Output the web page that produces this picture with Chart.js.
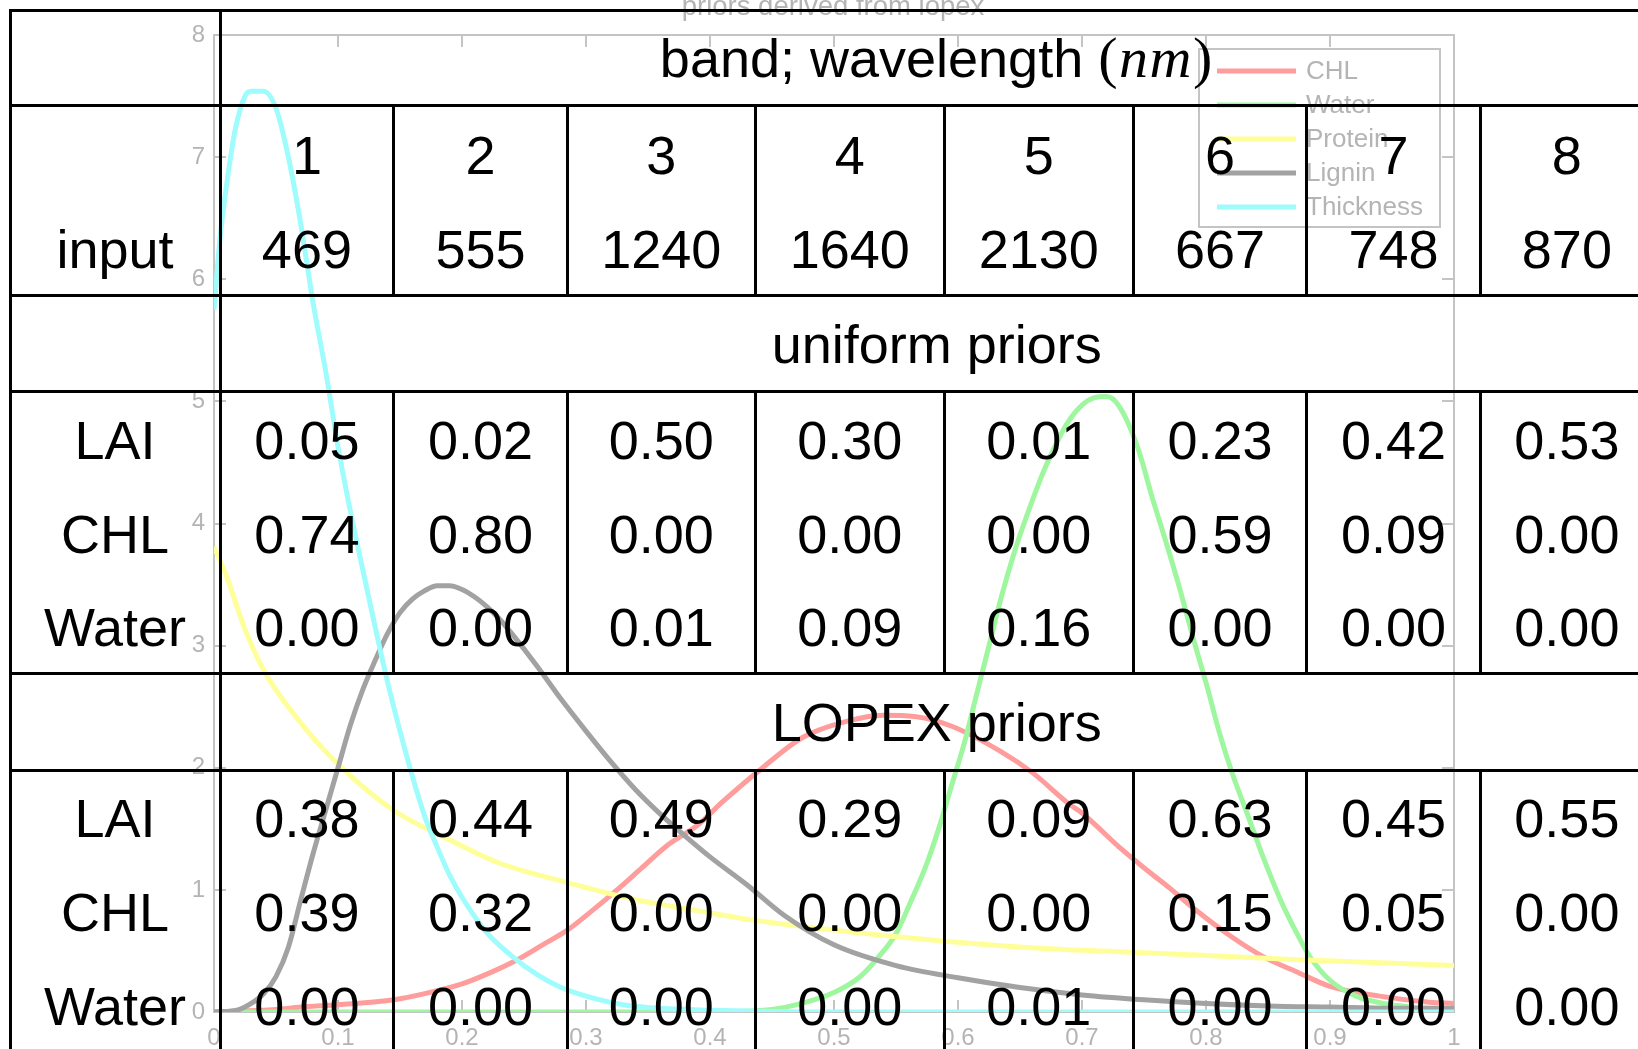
<!DOCTYPE html>
<html>
<head>
<meta charset="utf-8">
<title>Band sensitivities and priors</title>
<script src="https://cdn.jsdelivr.net/npm/chart.js@4.4.1/dist/chart.umd.min.js"></script>
<style>
  html, body { margin: 0; padding: 0; background: #fff; overflow: hidden; }
  #wrap { position: relative; width: 1638px; height: 1049px; overflow: hidden; }
  #plot { position: absolute; left: 0; top: 0; }
  #grid { position: absolute; left: 0; top: 0; width: 1638px; height: 1049px;
          font-family: "Liberation Sans", Arial, Helvetica, sans-serif; font-size: 54px; color: #000; }
  .ln { position: absolute; background: #000; }
  .tx { position: absolute; text-align: center; white-space: nowrap; height: 94px; line-height: 94px; }
  .math { font-family: "Liberation Serif", "Times New Roman", serif; font-size: 58px; letter-spacing: 1.5px; }
</style>
</head>
<body>
<div id="wrap">
  <canvas id="plot" width="1638" height="1049"></canvas>
  <div id="grid"></div>
</div>
<script>
// ---- prior density curves (x = normalised parameter value, y = density) ----
const seriesNames = ['CHL', 'Water', 'Protein', 'Lignin', 'Thickness'];
const seriesColors = ['#ff9c9c', '#9ef79e', '#ffff99', '#a2a2a2', '#9ffcfc'];

const chlX = [0, 0.05, 0.07, 0.10, 0.145, 0.17, 0.20, 0.22, 0.245, 0.265, 0.285, 0.305, 0.325, 0.345, 0.365, 0.39, 0.41, 0.44, 0.475, 0.51, 0.54, 0.565, 0.595, 0.635, 0.66, 0.69, 0.70, 0.73, 0.755, 0.77, 0.79, 0.82, 0.845, 0.875, 0.90, 0.94, 0.98, 1.0];
const chlY = [0, 0.02, 0.04, 0.06, 0.10, 0.15, 0.23, 0.31, 0.43, 0.55, 0.67, 0.83, 1.00, 1.18, 1.36, 1.53, 1.72, 1.98, 2.25, 2.38, 2.43, 2.42, 2.34, 2.13, 1.96, 1.70, 1.63, 1.35, 1.14, 1.02, 0.85, 0.62, 0.46, 0.32, 0.21, 0.13, 0.08, 0.07];

const waterX = [0, 0.40, 0.45, 0.47, 0.50, 0.52, 0.535, 0.55, 0.56, 0.575, 0.585, 0.595, 0.605, 0.615, 0.625, 0.635, 0.645, 0.655, 0.67, 0.69, 0.71, 0.72, 0.73, 0.745, 0.757, 0.768, 0.779, 0.79, 0.801, 0.811, 0.822, 0.833, 0.846, 0.86, 0.873, 0.884, 0.90, 0.921, 0.943, 0.967, 1.0];
const waterY = [0, 0.00, 0.02, 0.06, 0.16, 0.28, 0.44, 0.64, 0.86, 1.22, 1.52, 1.86, 2.20, 2.60, 3.00, 3.40, 3.75, 4.05, 4.45, 4.85, 5.03, 5.04, 4.96, 4.62, 4.20, 3.84, 3.46, 3.05, 2.66, 2.28, 1.93, 1.63, 1.27, 0.92, 0.65, 0.45, 0.26, 0.13, 0.07, 0.04, 0.02];

const proteinX = [0, 0.01, 0.024, 0.04, 0.069, 0.10, 0.145, 0.19, 0.23, 0.285, 0.34, 0.39, 0.43, 0.51, 0.59, 0.67, 0.74, 0.87, 1.0];
const proteinY = [3.81, 3.57, 3.16, 2.80, 2.38, 2.03, 1.65, 1.41, 1.22, 1.06, 0.92, 0.83, 0.76, 0.66, 0.58, 0.52, 0.49, 0.43, 0.38];

const ligninX = [0, 0.02, 0.03, 0.04, 0.05, 0.06, 0.07, 0.08, 0.09, 0.10, 0.11, 0.12, 0.13, 0.14, 0.15, 0.16, 0.17, 0.18, 0.19, 0.20, 0.21, 0.22, 0.23, 0.24, 0.26, 0.28, 0.30, 0.32, 0.34, 0.36, 0.38, 0.40, 0.43, 0.46, 0.50, 0.55, 0.60, 0.65, 0.70, 0.75, 0.80, 0.85, 0.90, 0.95, 1.0];
const ligninY = [0, 0.02, 0.07, 0.15, 0.29, 0.53, 0.92, 1.30, 1.65, 2.00, 2.35, 2.64, 2.88, 3.10, 3.27, 3.38, 3.45, 3.49, 3.49, 3.46, 3.40, 3.32, 3.22, 3.10, 2.84, 2.56, 2.30, 2.05, 1.82, 1.62, 1.44, 1.27, 1.04, 0.79, 0.55, 0.38, 0.28, 0.20, 0.14, 0.10, 0.07, 0.05, 0.04, 0.03, 0.03];

const thickX = [0, 0.005, 0.01, 0.017, 0.025, 0.03, 0.04, 0.05, 0.06, 0.07, 0.08, 0.09, 0.10, 0.11, 0.12, 0.13, 0.14, 0.15, 0.16, 0.17, 0.18, 0.19, 0.20, 0.22, 0.24, 0.26, 0.28, 0.30, 0.33, 0.36, 0.40, 0.45, 0.50, 1.0];
const thickY = [5.75, 6.35, 6.76, 7.22, 7.50, 7.54, 7.54, 7.40, 7.00, 6.45, 5.80, 5.25, 4.63, 4.10, 3.62, 3.15, 2.70, 2.30, 1.93, 1.60, 1.35, 1.12, 0.94, 0.65, 0.46, 0.31, 0.20, 0.13, 0.06, 0.03, 0.015, 0.005, 0, 0];

const seriesX = [chlX, waterX, proteinX, ligninX, thickX];
const seriesY = [chlY, waterY, proteinY, ligninY, thickY];

const xTicks = [0, 0.1, 0.2, 0.3, 0.4, 0.5, 0.6, 0.7, 0.8, 0.9, 1];
const yTicks = [0, 1, 2, 3, 4, 5, 6, 7, 8];
const chartTitle = 'priors derived from lopex';

// ---- table contents ----
const headerText = 'band; wavelength ';
const headerUnit = 'nm';
const bands = ['1', '2', '3', '4', '5', '6', '7', '8'];
const wavelengths = ['469', '555', '1240', '1640', '2130', '667', '748', '870'];
const inputs = ['LAI', 'CHL', 'Water'];
const uniformTitle = 'uniform priors';
const uniformLAI = ['0.05', '0.02', '0.50', '0.30', '0.01', '0.23', '0.42', '0.53'];
const uniformCHL = ['0.74', '0.80', '0.00', '0.00', '0.00', '0.59', '0.09', '0.00'];
const uniformWater = ['0.00', '0.00', '0.01', '0.09', '0.16', '0.00', '0.00', '0.00'];
const lopexTitle = 'LOPEX priors';
const lopexLAI = ['0.38', '0.44', '0.49', '0.29', '0.09', '0.63', '0.45', '0.55'];
const lopexCHL = ['0.39', '0.32', '0.00', '0.00', '0.00', '0.15', '0.05', '0.00'];
const lopexWater = ['0.00', '0.00', '0.00', '0.00', '0.01', '0.00', '0.00', '0.00'];

// ---- chart styling ----
const axisColor = '#c4c4c4';
const labelColor = '#b4b4b4';
const faintFont = '"Liberation Sans", Arial, Helvetica, sans-serif';
const curveWidth = 5;

// frame around the axes with inward-pointing tick marks on all four sides
const axesFrame = {
  id: 'axesFrame',
  beforeDatasetsDraw(chart) {
    const { ctx, chartArea: a, scales: { x, y } } = chart;
    const t = 12;
    ctx.save();
    ctx.strokeStyle = axisColor;
    ctx.lineWidth = 2;
    ctx.strokeRect(a.left, a.top, a.right - a.left, a.bottom - a.top);
    ctx.beginPath();
    xTicks.forEach(v => {
      const px = Math.round(x.getPixelForValue(v));
      ctx.moveTo(px, a.bottom); ctx.lineTo(px, a.bottom - t);
      ctx.moveTo(px, a.top); ctx.lineTo(px, a.top + t);
    });
    yTicks.forEach(v => {
      const py = Math.round(y.getPixelForValue(v));
      ctx.moveTo(a.left, py); ctx.lineTo(a.left + t, py);
      ctx.moveTo(a.right, py); ctx.lineTo(a.right - t, py);
    });
    ctx.stroke();
    ctx.restore();
  }
};

// title above the axes and the boxed legend in the upper right corner
const decorations = {
  id: 'decorations',
  afterDraw(chart) {
    const { ctx, chartArea: a } = chart;
    ctx.save();
    ctx.fillStyle = labelColor;
    ctx.font = '27.5px ' + faintFont;
    ctx.textAlign = 'center';
    ctx.textBaseline = 'alphabetic';
    ctx.fillText(chartTitle, (a.left + a.right) / 2 - 1, 15);

    const box = { left: a.right - 255, top: 49, width: 241, height: 178 };
    ctx.fillStyle = '#fff';
    ctx.fillRect(box.left, box.top, box.width, box.height);
    ctx.strokeStyle = axisColor;
    ctx.lineWidth = 2;
    ctx.strokeRect(box.left, box.top, box.width, box.height);
    ctx.font = '26px ' + faintFont;
    ctx.textAlign = 'left';
    ctx.textBaseline = 'middle';
    chart.data.datasets.forEach((ds, i) => {
      const yy = box.top + 22 + i * 34;
      ctx.strokeStyle = ds.borderColor;
      ctx.lineWidth = curveWidth;
      ctx.beginPath();
      ctx.moveTo(box.left + 18, yy);
      ctx.lineTo(box.left + 97, yy);
      ctx.stroke();
      ctx.fillStyle = labelColor;
      ctx.fillText(ds.label, box.left + 107, yy + 1);
    });
    ctx.restore();
  }
};

const fmt = v => String(Math.round(v * 10) / 10);

new Chart(document.getElementById('plot').getContext('2d'), {
  type: 'line',
  data: {
    datasets: seriesNames.map((name, i) => ({
      label: name,
      data: seriesX[i].map((xv, j) => ({ x: xv, y: seriesY[i][j] })),
      borderColor: seriesColors[i],
      backgroundColor: seriesColors[i],
      borderWidth: curveWidth,
      pointRadius: 0,
      fill: false,
      cubicInterpolationMode: 'monotone',
      order: seriesNames.length - 1 - i
    }))
  },
  options: {
    responsive: false,
    animation: false,
    devicePixelRatio: 1,
    layout: { padding: { left: 0, top: 35, right: 184, bottom: 0 } },
    plugins: { legend: { display: false }, title: { display: false }, tooltip: { enabled: false } },
    scales: {
      x: {
        type: 'linear', min: 0, max: 1,
        afterFit(s) { s.height = 37; },
        afterBuildTicks(s) { s.ticks = xTicks.map(v => ({ value: v })); },
        grid: { display: false, drawTicks: false },
        border: { display: false },
        ticks: { color: labelColor, font: { family: faintFont, size: 24 }, padding: 12,
                 maxRotation: 0, autoSkip: false, callback: v => fmt(v) }
      },
      y: {
        type: 'linear', min: 0, max: 8,
        afterFit(s) { s.width = 214; },
        afterBuildTicks(s) { s.ticks = yTicks.map(v => ({ value: v })); },
        grid: { display: false, drawTicks: false },
        border: { display: false },
        ticks: { color: labelColor, font: { family: faintFont, size: 24 }, padding: 9,
                 autoSkip: false, callback: v => fmt(v) }
      }
    }
  },
  plugins: [axesFrame, decorations]
});

// ---- table overlay ----
const grid = document.getElementById('grid');
const LW = 3;
const colEdges = [220, 393.8, 567.2, 755.3, 944.3, 1133.4, 1306.8, 1480.2, 1653.6];
const rowLines = [10.5, 105.5, 295.5, 391.5, 673.5, 770];
const tableLeft = 10, tableBottom = 1070;

function hLine(y, x0, x1) {
  const d = document.createElement('div');
  d.className = 'ln';
  d.style.cssText = `left:${x0 - LW / 2}px;top:${y - LW / 2}px;width:${x1 - x0 + LW}px;height:${LW}px`;
  grid.appendChild(d);
}
function vLine(x, y0, y1) {
  const d = document.createElement('div');
  d.className = 'ln';
  d.style.cssText = `left:${x - LW / 2}px;top:${y0 - LW / 2}px;width:${LW}px;height:${y1 - y0 + LW}px`;
  grid.appendChild(d);
}
function text(content, cx, cy, w, html) {
  const d = document.createElement('div');
  d.className = 'tx';
  d.style.left = (cx - w / 2) + 'px';
  d.style.width = w + 'px';
  d.style.top = (cy - 47) + 'px';
  if (html) d.innerHTML = content; else d.textContent = content;
  grid.appendChild(d);
}

const right = colEdges[colEdges.length - 1];
rowLines.forEach(y => hLine(y, tableLeft, right));
vLine(tableLeft, rowLines[0], tableBottom);
vLine(colEdges[0], rowLines[0], tableBottom);
// column separators only in the rows that hold per-band cells
const bandRows = [[rowLines[1], rowLines[2]], [rowLines[3], rowLines[4]], [rowLines[5], tableBottom]];
colEdges.slice(1).forEach(x => bandRows.forEach(([y0, y1]) => vLine(x, y0, y1)));

const spanCenter = (colEdges[0] + right) / 2;
const firstCenter = (tableLeft + colEdges[0]) / 2;
const colCenter = i => (colEdges[i] + colEdges[i + 1]) / 2;
const colWidth = i => colEdges[i + 1] - colEdges[i];

text(headerText + '<span class="math">(<i>' + headerUnit + '</i>)</span>', spanCenter, 58, 900, true);
text('input', firstCenter, 248.6, 200);
bands.forEach((b, i) => text(b, colCenter(i), 154.6, colWidth(i)));
wavelengths.forEach((w, i) => text(w, colCenter(i), 248.6, colWidth(i)));

text(uniformTitle, spanCenter, 343.5, 600);
const uniformRows = [uniformLAI, uniformCHL, uniformWater];
const uniformY = [439.5, 533.5, 627];
inputs.forEach((name, r) => {
  text(name, firstCenter, uniformY[r], 200);
  uniformRows[r].forEach((v, i) => text(v, colCenter(i), uniformY[r], colWidth(i)));
});

text(lopexTitle, spanCenter, 722, 600);
const lopexRows = [lopexLAI, lopexCHL, lopexWater];
const lopexY = [818, 912, 1006];
inputs.forEach((name, r) => {
  text(name, firstCenter, lopexY[r], 200);
  lopexRows[r].forEach((v, i) => text(v, colCenter(i), lopexY[r], colWidth(i)));
});
</script>
</body>
</html>
